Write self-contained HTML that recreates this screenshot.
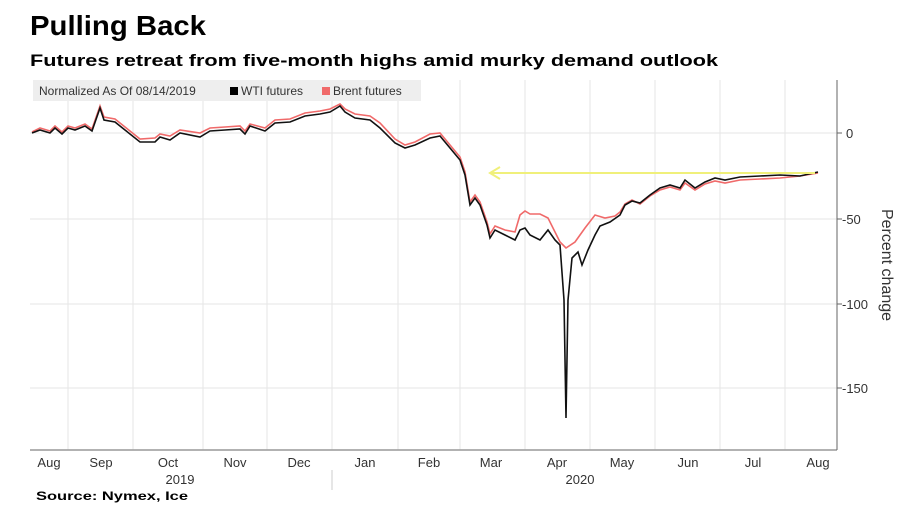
<!DOCTYPE html>
<html><head><meta charset="utf-8"><style>
body{margin:0;background:#fff;width:921px;height:512px;overflow:hidden;font-family:"Liberation Sans",sans-serif}
</style></head><body>
<svg width="921" height="512" xmlns="http://www.w3.org/2000/svg" font-family="Liberation Sans, sans-serif">
<text x="30" y="35" font-size="28" font-weight="bold" fill="#000" textLength="176" lengthAdjust="spacingAndGlyphs">Pulling Back</text>
<text x="30" y="66" font-size="17" font-weight="bold" fill="#000" textLength="688" lengthAdjust="spacingAndGlyphs">Futures retreat from five-month highs amid murky demand outlook</text>
<g stroke="#e6e6e6" stroke-width="1">
<line x1="68" y1="80" x2="68" y2="450"/><line x1="133" y1="80" x2="133" y2="450"/><line x1="203" y1="80" x2="203" y2="450"/><line x1="267" y1="80" x2="267" y2="450"/><line x1="332" y1="80" x2="332" y2="450"/><line x1="398" y1="80" x2="398" y2="450"/><line x1="460" y1="80" x2="460" y2="450"/><line x1="525" y1="80" x2="525" y2="450"/><line x1="590" y1="80" x2="590" y2="450"/><line x1="655" y1="80" x2="655" y2="450"/><line x1="720" y1="80" x2="720" y2="450"/><line x1="785" y1="80" x2="785" y2="450"/>
<line x1="30" y1="133" x2="837" y2="133"/><line x1="30" y1="219" x2="837" y2="219"/><line x1="30" y1="304" x2="837" y2="304"/><line x1="30" y1="388" x2="837" y2="388"/>
</g>
<rect x="33" y="80" width="388" height="21" fill="#eeeeee"/>
<text x="39" y="95" font-size="12" fill="#333">Normalized As Of 08/14/2019</text>
<rect x="230" y="87" width="8" height="8" fill="#000"/>
<text x="241" y="95" font-size="12" fill="#333">WTI futures</text>
<rect x="322" y="87" width="8" height="8" fill="#f06a6a"/>
<text x="333" y="95" font-size="12" fill="#333">Brent futures</text>
<line x1="30" y1="450" x2="837" y2="450" stroke="#999" stroke-width="1.5"/>
<line x1="837" y1="80" x2="837" y2="450" stroke="#666" stroke-width="1"/>
<g stroke="#666"><line x1="837" y1="133" x2="842" y2="133"/><line x1="837" y1="219" x2="842" y2="219"/><line x1="837" y1="304" x2="842" y2="304"/><line x1="837" y1="388" x2="842" y2="388"/></g>
<g font-size="13" fill="#333">
<text x="846" y="138">0</text><text x="842" y="224">-50</text><text x="842" y="309">-100</text><text x="842" y="393">-150</text>
</g>
<text transform="translate(882,265) rotate(90)" font-size="16" fill="#333" text-anchor="middle">Percent change</text>
<g font-size="13" fill="#333" text-anchor="middle">
<text x="49" y="467">Aug</text><text x="101" y="467">Sep</text><text x="168" y="467">Oct</text><text x="235" y="467">Nov</text><text x="299" y="467">Dec</text><text x="365" y="467">Jan</text><text x="429" y="467">Feb</text><text x="491" y="467">Mar</text><text x="557" y="467">Apr</text><text x="622" y="467">May</text><text x="688" y="467">Jun</text><text x="753" y="467">Jul</text><text x="818" y="467">Aug</text>
<text x="180" y="484">2019</text><text x="580" y="484">2020</text>
</g>
<line x1="332" y1="470" x2="332" y2="490" stroke="#ccc"/>
<text x="36" y="500" font-size="12" font-weight="bold" fill="#000" textLength="152" lengthAdjust="spacingAndGlyphs">Source: Nymex, Ice</text>
<polyline fill="none" stroke="#f06a6a" stroke-width="1.6" points="32,132 40,128 50,131 55,126 62,132 68,126 75,128 85,124 92,129 100,106 104,117 115,119 125,127 140,139 155,138 160,134 170,136 180,130 200,133 210,128 225,127 240,126 245,131 250,124 265,128 275,120 290,119 305,113 320,111 330,109 340,104 345,109 355,114 370,116 380,123 395,139 405,145 415,142 430,134 440,133 450,145 460,157 465,172 470,202 475,195 480,202 487,222 490,234 495,226 505,230 515,232 520,215 525,211 530,214 540,214 548,218 555,232 560,242 566,248 575,242 585,228 595,215 605,218 615,216 620,212 625,204 632,200 640,204 650,196 660,190 670,187 680,190 685,183 695,190 705,184 715,181 725,183 740,180 760,179 780,178 800,176 818,173"/>
<polyline fill="none" stroke="#111" stroke-width="1.6" points="32,133 40,130 50,133 55,128 62,134 68,128 75,130 85,126 92,131 100,108 104,120 115,122 125,130 140,142 155,142 160,137 170,140 180,133 200,137 210,131 225,130 240,129 245,134 250,126 265,131 275,123 290,122 305,116 320,114 330,112 340,106 345,112 355,118 370,120 380,128 395,143 405,148 415,145 430,138 440,136 450,148 460,160 465,175 470,205 475,198 480,205 487,225 490,238 495,230 505,235 515,240 520,230 525,228 530,235 540,240 548,230 555,240 560,245 564,300 566,418 568,300 572,258 578,252 582,265 588,250 595,235 600,226 610,222 620,215 625,205 632,201 640,203 650,195 660,188 670,185 680,188 685,180 695,188 705,182 715,178 725,180 740,177 760,176 780,175 800,176 818,172"/>
<line x1="492" y1="173" x2="815" y2="173" stroke="#f0f07a" stroke-width="2"/>
<polyline points="500,167 490,173 500,179" fill="none" stroke="#f0f07a" stroke-width="2"/>
</svg>
</body></html>
